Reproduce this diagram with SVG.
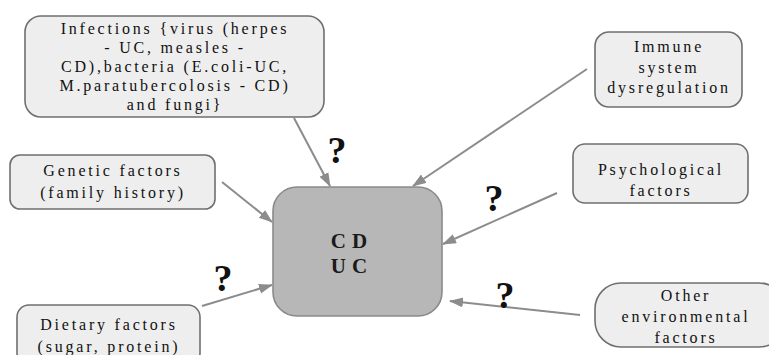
<svg xmlns="http://www.w3.org/2000/svg" width="769" height="355" viewBox="0 0 769 355">
<style>
.box{fill:#eeeeee;stroke:#6f6f6f;stroke-width:1.6}
.core{fill:#b7b7b7;stroke:#8a8a8a;stroke-width:1.6}
.t{font-family:"Liberation Serif","Times New Roman",serif;font-size:16px;letter-spacing:2.8px;fill:#111;text-anchor:middle}
.c{font-family:"Liberation Serif","Times New Roman",serif;font-size:21px;font-weight:bold;letter-spacing:6px;fill:#1a1a1a;text-anchor:middle}
.q{font-family:"Liberation Serif","Times New Roman",serif;font-size:38px;font-weight:bold;fill:#111;text-anchor:middle}
.ln{stroke:#8c8c8c;stroke-width:2;fill:none;marker-end:url(#ah)}
</style>
<defs>
<marker id="ah" markerUnits="userSpaceOnUse" markerWidth="14" markerHeight="12" refX="13" refY="5" orient="auto">
<path d="M0,0 L14,5 L0,10 Z" fill="#8c8c8c"/>
</marker>
</defs>
<rect width="769" height="355" fill="#ffffff"/>
<g id="connectors">
<line class="ln" x1="294" y1="118" x2="330" y2="186"/>
<line class="ln" x1="587" y1="69" x2="413" y2="186"/>
<line class="ln" x1="222" y1="182" x2="272" y2="222"/>
<line class="ln" x1="557" y1="193" x2="443" y2="244"/>
<line class="ln" x1="202" y1="306" x2="272" y2="285"/>
<line class="ln" x1="580" y1="315" x2="450" y2="301"/>
<text class="q" x="337" y="163">?</text>
<text class="q" x="494" y="211">?</text>
<text class="q" x="223" y="291">?</text>
<text class="q" x="505" y="308">?</text>
</g>
<g id="infections">
<rect class="box" x="25" y="16" width="299" height="101" rx="16"/>
<text class="t" x="175" y="34">Infections {virus (herpes</text>
<text class="t" x="175" y="53">- UC, measles -</text>
<text class="t" x="175" y="72">CD),bacteria (E.coli-UC,</text>
<text class="t" x="175" y="91">M.paratubercolosis - CD)</text>
<text class="t" x="175" y="110">and fungi}</text>
</g>
<g id="immune">
<rect class="box" x="595" y="32" width="147" height="75" rx="14"/>
<text class="t" x="669" y="52">Immune</text>
<text class="t" x="669" y="73">system</text>
<text class="t" x="669" y="93">dysregulation</text>
</g>
<g id="genetic">
<rect class="box" x="10" y="155" width="205" height="54" rx="10"/>
<text class="t" x="113" y="176">Genetic factors</text>
<text class="t" x="113" y="198">(family history)</text>
</g>
<g id="psychological">
<rect class="box" x="573" y="144" width="175" height="59" rx="12"/>
<text class="t" x="661" y="175">Psychological</text>
<text class="t" x="661" y="196">factors</text>
</g>
<g id="cdus">
<rect class="core" x="273" y="187" width="169" height="129" rx="24"/>
<text class="c" x="352" y="248">CD</text>
<text class="c" x="352" y="273">UC</text>
</g>
<g id="dietary">
<rect class="box" x="17" y="305" width="183" height="60" rx="12"/>
<text class="t" x="109" y="330">Dietary factors</text>
<text class="t" x="109" y="352">(sugar, protein)</text>
</g>
<g id="other">
<rect class="box" x="595" y="283" width="190" height="64" rx="26"/>
<text class="t" x="686" y="301">Other</text>
<text class="t" x="686" y="322">environmental</text>
<text class="t" x="686" y="343">factors</text>
</g>
</svg>
